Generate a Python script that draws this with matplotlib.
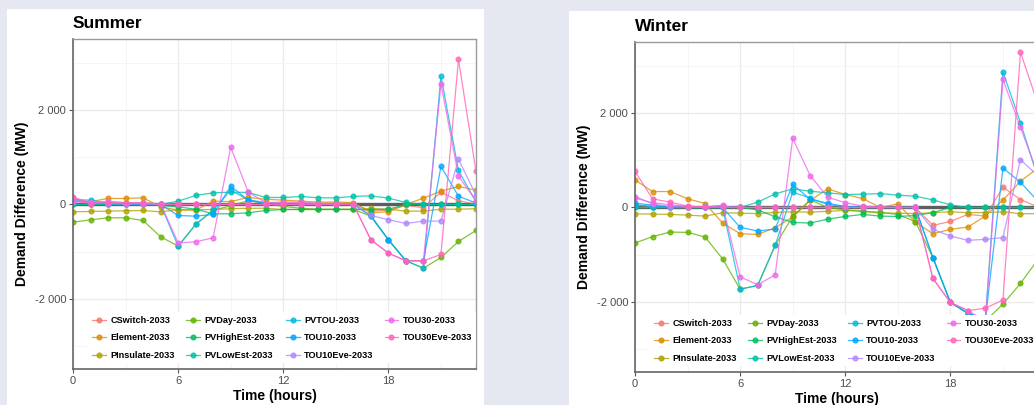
import matplotlib
matplotlib.use("Agg")
import matplotlib.pyplot as plt
from matplotlib.lines import Line2D
from matplotlib.patches import Rectangle

plt.rcParams['font.family'] = ['Liberation Sans', 'DejaVu Sans']

hours = list(range(24))

names = ['CSwitch-2033', 'Element-2033', 'PInsulate-2033', 'PVDay-2033',
         'PVHighEst-2033', 'PVLowEst-2033', 'PVTOU-2033', 'TOU10-2033',
         'TOU10Eve-2033', 'TOU30-2033', 'TOU30Eve-2033']
colors = ['#F8766D', '#DB8E00', '#AEA200', '#64B200', '#00BD5C', '#00C1A7',
          '#00BADE', '#00A6FF', '#B385FF', '#EF67EB', '#FF63B6']

# Summer (MW)
cswitch_s = [100, 20, 40, 30, 30, 10, 0, 0, 0, 10, 0, 0, 30, 30, 20, 20, 20, -141, -120, -20, -70, 261, 78, 10]
element_s = [100, 60, 127, 127, 141, -49, -120, -120, 70, 60, 150, 110, 92, 70, 50, 50, 40, -176, -155, 0, 134, 282, 381, 303]
pinsul_s = [-155, -148, -141, -134, -127, -155, -110, -110, -106, -90, -80, -80, -106, -106, -106, -106, -106, -85, -100, -141, -141, -100, -100, -90]
pvday_s = [-374, -324, -282, -282, -338, -684, -881, -423, -120, -30, 80, 20, -40, -80, -100, -100, -100, -250, -747, -1191, -1347, -1121, -783, -550]
pvhigh_s = [0, 0, 0, 0, 0, -20, -50, -100, -197, -197, -176, -127, -106, -106, -106, -106, -106, -110, -100, 0, 0, 0, 0, 0]
pvlow_s = [0, 0, 0, 0, 0, 0, 70, 190, 247, 261, 254, 148, 148, 169, 141, 141, 169, 183, 134, 42, 0, 0, 0, 0]
pvtou_s = [106, 92, 30, 20, 20, 0, -881, -423, -120, 300, 100, 40, 20, 20, 10, 10, 10, -250, -747, -1191, -1347, 2714, 719, 50]
tou10_s = [80, 50, 10, 10, 10, 0, -233, -247, -211, 388, 90, 20, 0, 0, 0, 0, 0, -233, -747, -1191, -1191, 804, 176, 30]
tou10eve_s = [90, 60, 20, 10, 10, 0, 0, 0, 0, 0, 0, 0, 0, 0, 0, 0, 0, -233, -324, -402, -352, -352, 952, 200]
tou30_s = [60, 30, 70, 40, 30, 10, -811, -790, -705, 1213, 261, 40, 50, 50, 20, 20, 0, -747, -1029, -1191, -1191, 2552, 599, 80]
tou30eve_s = [162, 20, 40, 30, 30, 10, 0, 0, 0, 0, 0, 0, 0, 0, 0, 0, 0, -747, -1029, -1191, -1191, -1057, 3067, 698]

# Winter (MW)
cswitch_w = [50, 20, 0, 0, 0, 0, 0, 0, 0, 0, 0, 0, 0, 0, 0, 0, 0, -379, -295, -147, -183, 428, 168, 10]
element_w = [583, 337, 337, 183, 84, -330, -555, -569, -428, -200, 150, 393, 274, 190, 0, 77, -309, -555, -463, -414, -180, 154, 555, 836]
pinsul_w = [-133, -140, -147, -161, -183, -112, -120, -130, -105, -90, -100, -80, -63, -80, -120, -120, -130, -110, -90, -110, -110, -90, -133, -130]
pvday_w = [-751, -618, -520, -527, -625, -1088, -1727, -1650, -800, -190, 161, 0, -50, -80, -100, -150, -297, -1060, -2008, -2240, -2400, -2043, -1608, -1098]
pvhigh_w = [0, 0, 0, 0, 0, 0, 0, -50, -197, -316, -330, -246, -190, -147, -183, -190, -170, -110, 0, 0, 0, 0, 0, 0]
pvlow_w = [0, 0, 0, 0, 0, 0, 0, 112, 288, 393, 344, 309, 274, 281, 295, 260, 239, 161, 56, 0, 0, 0, 0, 0]
pvtou_w = [60, 20, 0, 0, 0, 0, -1727, -1650, -800, 323, 200, 60, 20, 0, 0, 0, 0, -1060, -2008, -2240, -2350, 2864, 1797, 613]
tou10_w = [91, 50, 10, 0, 0, 0, -421, -498, -456, 491, 170, 91, 20, 0, 0, 0, 0, -1060, -2008, -2240, -2350, 835, 533, 132]
tou10eve_w = [232, 77, 20, 10, 10, 30, 0, 0, 0, 0, 0, 0, 0, 0, 0, 0, 0, -463, -604, -695, -674, -639, 1011, 670]
tou30_w = [200, 100, 60, 20, 10, 49, -1467, -1636, -1425, 1460, 674, 218, 100, 30, 10, 0, 0, -1502, -2008, -2183, -2400, 2710, 1692, 700]
tou30eve_w = [765, 183, 112, 30, 10, 0, 0, 0, 0, 0, 0, 0, 0, 0, 0, 0, 0, -1502, -2008, -2183, -2127, -1959, 3285, 2180]

summer = [cswitch_s, element_s, pinsul_s, pvday_s, pvhigh_s, pvlow_s,
          pvtou_s, tou10_s, tou10eve_s, tou30_s, tou30eve_s]
winter = [cswitch_w, element_w, pinsul_w, pvday_w, pvhigh_w, pvlow_w,
          pvtou_w, tou10_w, tou10eve_w, tou30_w, tou30eve_w]

W, H = 1034, 405
fig = plt.figure(figsize=(W / 100, H / 100), dpi=100, facecolor='#e5e8f0')

# white cards behind each chart
fig.patches.append(Rectangle((7 / W, 0), 477 / W, (H - 9) / H, transform=fig.transFigure,
                             facecolor='white', edgecolor='none', zorder=-5))
fig.patches.append(Rectangle((569 / W, 0), 465 / W, (H - 11) / H, transform=fig.transFigure,
                             facecolor='white', edgecolor='none', zorder=-5))


def panel(left_px, top_px, data, title):
    ax = fig.add_axes([left_px / W, (H - top_px - 330) / H, 403 / W, 330 / H])
    ax.set_facecolor('white')
    ax.set_xlim(0, 23)
    ax.set_ylim(-3480, 3500)
    ax.set_xticks([3, 9, 15, 21], minor=True)
    ax.set_yticks([-3000, -1000, 1000, 3000], minor=True)
    ax.set_xticks([0, 6, 12, 18])
    ax.set_yticks([-2000, 0, 2000])
    ax.set_yticklabels(['-2 000', '0', '2 000'])
    ax.grid(True, which='major', color='#ebebeb', linewidth=1.0)
    ax.grid(True, which='minor', color='#f4f4f4', linewidth=0.6)
    ax.set_axisbelow(True)
    ax.tick_params(which='minor', length=0)
    ax.tick_params(which='major', length=3, width=0.8, color='#555555',
                   labelcolor='#4d4d4d', labelsize=8, pad=2)
    for s in ['top', 'right']:
        ax.spines[s].set_color('#9a9a9a')
        ax.spines[s].set_linewidth(1.0)
    for s in ['left', 'bottom']:
        ax.spines[s].set_color('#666666')
        ax.spines[s].set_linewidth(1.2)

    ax.axhline(0, color='#5e5e5e', linewidth=2.4, zorder=1)
    for vals, col in zip(data, colors):
        ax.plot(hours, vals, color=col, linewidth=0.9, marker='o', markersize=3.4,
                alpha=0.78, zorder=2)

    ax.set_xlabel('Time (hours)', fontsize=10, fontweight='bold', labelpad=2)
    ax.set_ylabel('Demand Difference (MW)', fontsize=10, fontweight='bold', labelpad=4)
    ax.set_title(title, loc='left', fontsize=12.5, fontweight='bold', pad=8)

    handles = [Line2D([0], [0], color=c, marker='o', markersize=3.4, linewidth=0.9, alpha=0.8)
               for c in colors]
    leg = ax.legend(handles, names, ncol=4, loc='lower left',
                    bbox_to_anchor=(0.027, 0.003),
                    prop={'weight': 'bold', 'size': 6.6},
                    frameon=True, facecolor='white', edgecolor='none', framealpha=1,
                    handlelength=1.5, handletextpad=0.5, columnspacing=1.2,
                    labelspacing=0.92, borderpad=0.4, fancybox=False)
    leg.set_zorder(5)
    return ax


panel(73, 39, summer, 'Summer')
panel(635, 42, winter, 'Winter')

fig.savefig('out.png', dpi=100, facecolor=fig.get_facecolor())
